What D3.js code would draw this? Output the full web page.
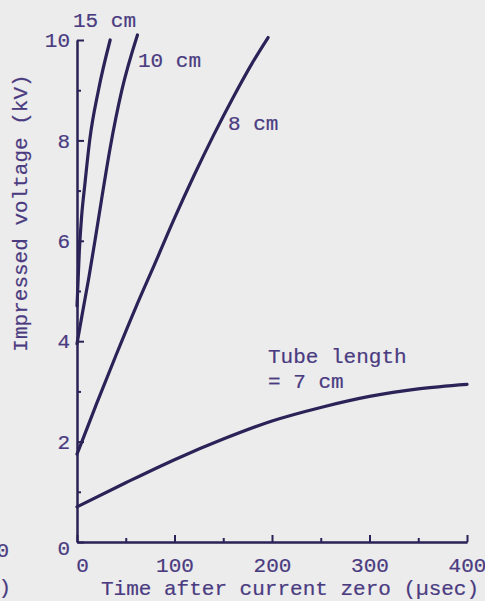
<!DOCTYPE html>
<html>
<head>
<meta charset="utf-8">
<script src="https://cdn.jsdelivr.net/npm/d3@7"></script>
<style>
  body { margin: 0; background: #ececed; }
  svg text { font-family: "Liberation Mono", "Courier New", monospace; fill: #4a3b80; stroke: #4a3b80; stroke-width: 0.2px; }
</style>
</head>
<body>
<div id="chart"></div>
<script>
// Data: time (usec) vs impressed voltage (kV)
const t7 = [0, 50, 100, 150, 200, 250, 300, 350, 400];
const v7 = [0.70, 1.18, 1.64, 2.05, 2.41, 2.68, 2.90, 3.05, 3.14];
const t8 = [0, 6, 20, 40, 60, 80, 100, 120, 140, 160, 180, 196];
const v8 = [1.75, 2.05, 2.75, 3.72, 4.66, 5.55, 6.45, 7.3, 8.1, 8.85, 9.55, 10.05];
const t10 = [0, 5, 12, 18, 25, 34, 46, 62];
const v10 = [3.95, 4.5, 5.25, 5.95, 6.8, 7.85, 9.0, 10.1];
const t15 = [0, 1, 2.4, 4.8, 8.2, 13, 22, 34];
const v15 = [4.7, 5.15, 5.8, 6.5, 7.15, 8.0, 9.0, 10.0];

const xTicks = [0, 100, 200, 300, 400];
const xMinor = [50, 150, 250, 350];
const yTicks = [0, 2, 4, 6, 8, 10];
const yMinor = [1, 3, 5, 7, 9];

const width = 485;
const height = 601;
const lineColor = "#2b2357";

const svg = d3.select("#chart").append("svg")
    .attr("width", width)
    .attr("height", height);

const x = d3.scaleLinear().domain([0, 400]).range([77, 467]);
const y = d3.scaleLinear().domain([0, 10]).range([542, 40]);

// axes with inward ticks
const xAxis = svg.append("g")
    .attr("transform", `translate(0,${y(0)})`)
    .call(d3.axisBottom(x).tickValues(xTicks).tickSize(-7).tickPadding(15).tickSizeOuter(0));
svg.append("g")
    .attr("transform", `translate(0,${y(0)})`)
    .call(d3.axisBottom(x).tickValues(xMinor).tickSize(-4).tickFormat("").tickSizeOuter(0));

const yAxis = svg.append("g")
    .attr("transform", `translate(${x(0)},0)`)
    .call(d3.axisLeft(y).tickValues(yTicks).tickSize(-7).tickPadding(7).tickSizeOuter(0));
svg.append("g")
    .attr("transform", `translate(${x(0)},0)`)
    .call(d3.axisLeft(y).tickValues(yMinor).tickSize(-4).tickFormat("").tickSizeOuter(0));

svg.selectAll(".domain, .tick line")
    .attr("stroke", lineColor)
    .attr("stroke-width", 2);
svg.selectAll(".tick text")
    .style("font-size", "21px");

// the two zeros sit off the corner
xAxis.selectAll(".tick text").filter(d => d === 0).attr("dx", 5);
yAxis.selectAll(".tick text").filter(d => d === 0).attr("dy", "0.6em");

// curves
const series = [
    {t: t7, v: v7},
    {t: t8, v: v8},
    {t: t10, v: v10},
    {t: t15, v: v15}
];

const line = d3.line()
    .x(d => x(d[0]))
    .y(d => y(d[1]))
    .curve(d3.curveMonotoneX);

svg.append("g")
    .selectAll("path")
    .data(series)
    .enter().append("path")
    .attr("d", s => line(d3.zip(s.t, s.v)))
    .attr("fill", "none")
    .attr("stroke", lineColor)
    .attr("stroke-width", 3.2)
    .attr("stroke-linecap", "round");

// curve labels
const labels = [
    {text: "15 cm", x: 73, y: 27},
    {text: "10 cm", x: 138, y: 67},
    {text: "8 cm", x: 228, y: 130},
    {text: "Tube length", x: 268, y: 363},
    {text: "= 7 cm", x: 268, y: 388}
];
svg.append("g")
    .selectAll("text")
    .data(labels)
    .enter().append("text")
    .attr("x", d => d.x)
    .attr("y", d => d.y)
    .style("font-size", "21px")
    .text(d => d.text);

// axis titles
svg.append("text")
    .attr("x", 101)
    .attr("y", 595)
    .style("font-size", "21px")
    .text("Time after current zero (\u00b5sec)");

svg.append("text")
    .attr("transform", "translate(27,213) rotate(-90)")
    .attr("text-anchor", "middle")
    .style("font-size", "21px")
    .text("Impressed voltage (kV)");

// bits of the neighbouring figure cut off at the left edge
svg.append("text").attr("x", 9).attr("y", 557).attr("text-anchor", "end").style("font-size", "21px").text("0");
svg.append("text").attr("x", 11).attr("y", 594).attr("text-anchor", "end").style("font-size", "21px").text(")");
</script>
</body>
</html>
